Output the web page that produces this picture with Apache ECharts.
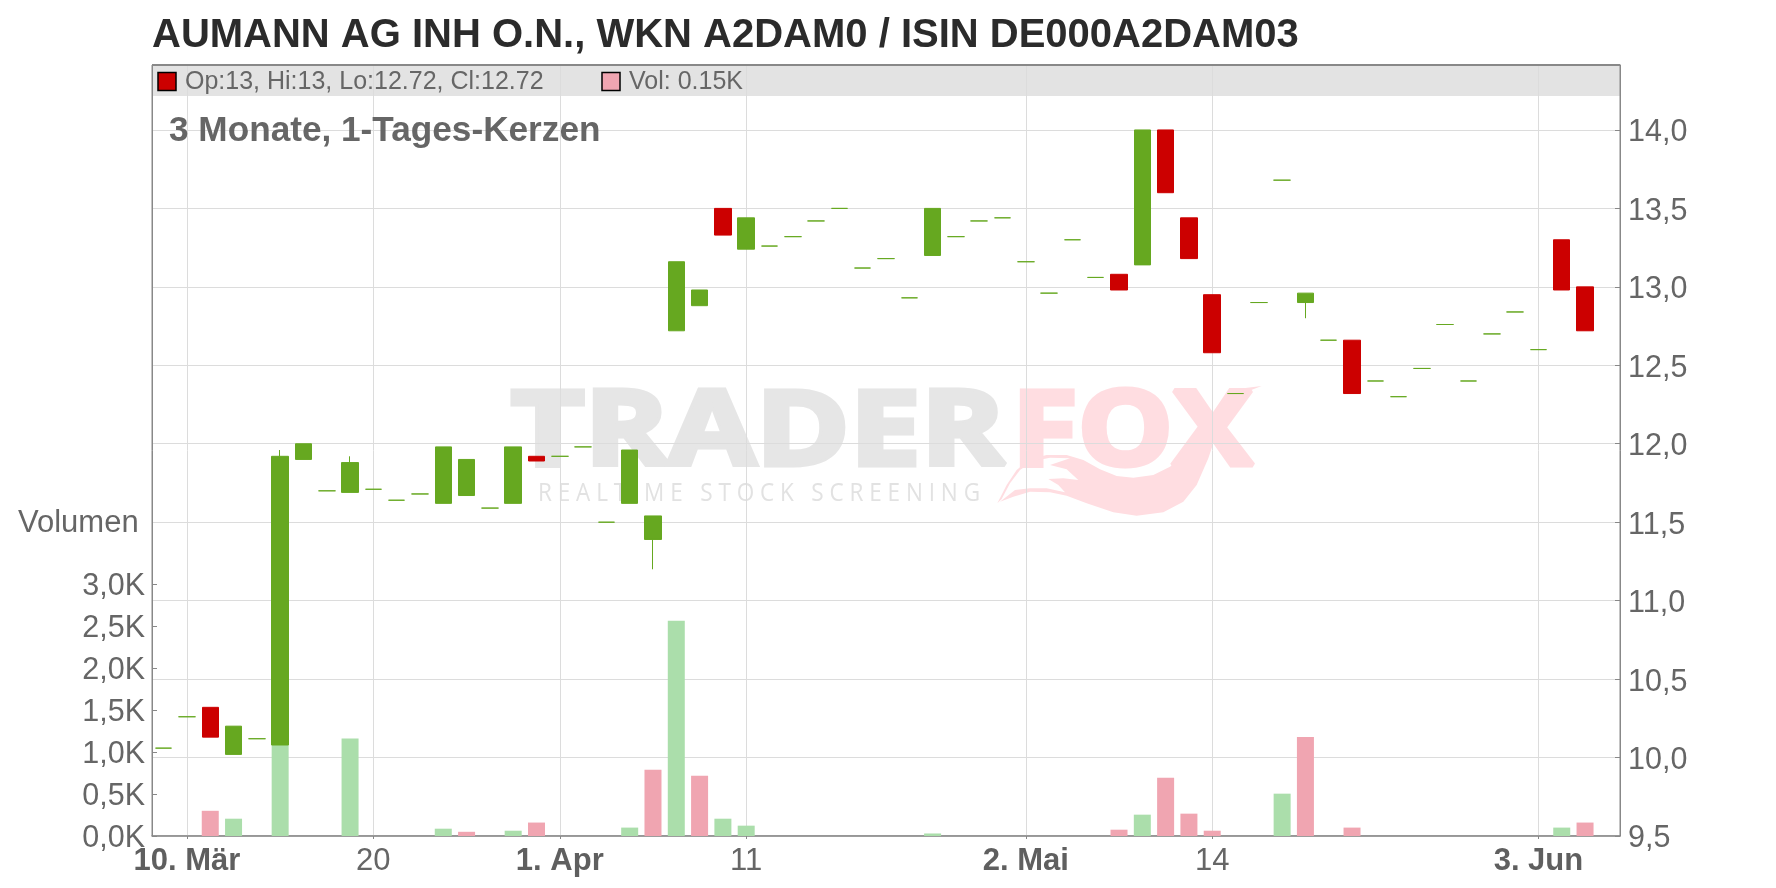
<!DOCTYPE html>
<html><head><meta charset="utf-8">
<style>html,body{margin:0;padding:0;background:#fff}#c{width:1776px;height:888px}</style>
<script src="https://cdn.jsdelivr.net/npm/echarts@6/dist/echarts.min.js"></script>
</head><body><div id="c"></div>
<script>
const categories=['07.03','10.03','11.03','12.03','13.03','14.03','17.03','18.03','19.03','20.03','21.03','24.03','25.03','26.03','27.03','28.03','31.03','01.04','02.04','03.04','04.04','07.04','08.04','09.04','10.04','11.04','14.04','15.04','16.04','17.04','22.04','23.04','24.04','25.04','28.04','29.04','30.04','02.05','05.05','06.05','07.05','08.05','09.05','12.05','13.05','14.05','15.05','16.05','19.05','20.05','21.05','22.05','23.05','26.05','27.05','28.05','29.05','30.05','02.06','03.06','04.06','05.06','06.06'];
const opens=[10.06,10.26,10.32,10.02,10.12,10.08,11.9,11.7,11.69,11.71,11.64,11.68,11.62,11.67,11.59,11.62,11.92,11.92,11.98,11.5,11.62,11.39,12.72,12.88,13.5,13.24,13.26,13.32,13.42,13.5,13.12,13.18,12.93,13.2,13.32,13.42,13.44,13.16,12.96,13.3,13.06,13.08,13.14,14,13.44,12.95,12.32,12.9,13.68,12.9,12.66,12.66,12.4,12.3,12.48,12.76,12.4,12.7,12.84,12.6,13.3,13,null];
const closes=[10.06,10.26,10.13,10.2,10.12,11.92,12,11.7,11.88,11.71,11.64,11.68,11.98,11.9,11.59,11.98,11.89,11.92,11.98,11.5,11.96,11.54,13.16,12.98,13.33,13.44,13.26,13.32,13.42,13.5,13.12,13.18,12.93,13.5,13.32,13.42,13.44,13.16,12.96,13.3,13.06,12.98,14,13.6,13.18,12.58,12.32,12.9,13.68,12.96,12.66,12.32,12.4,12.3,12.48,12.76,12.4,12.7,12.84,12.6,12.98,12.72,null];
const lows=[10.06,10.26,10.13,10.02,10.12,10.08,11.9,11.7,11.69,11.71,11.64,11.68,11.62,11.67,11.59,11.62,11.89,11.92,11.98,11.5,11.62,11.2,12.72,12.88,13.33,13.24,13.26,13.32,13.42,13.5,13.12,13.18,12.93,13.2,13.32,13.42,13.44,13.16,12.96,13.3,13.06,12.98,13.14,13.6,13.18,12.58,12.32,12.9,13.68,12.8,12.66,12.32,12.4,12.3,12.48,12.76,12.4,12.7,12.84,12.6,12.98,12.72,null];
const highs=[10.06,10.26,10.32,10.2,10.12,11.96,12,11.7,11.92,11.71,11.64,11.68,11.98,11.9,11.59,11.98,11.92,11.92,11.98,11.5,11.96,11.54,13.16,12.98,13.5,13.44,13.26,13.32,13.42,13.5,13.12,13.18,12.93,13.5,13.32,13.42,13.44,13.16,12.96,13.3,13.06,13.08,14,14,13.44,12.95,12.32,12.9,13.68,12.96,12.66,12.66,12.4,12.3,12.48,12.76,12.4,12.7,12.84,12.6,13.3,13,null];
const volumeUp=[null,null,null,0.206,null,1.09,null,null,1.16,null,null,null,0.087,null,null,0.063,null,null,null,null,0.1,null,2.563,null,0.206,0.123,null,null,null,null,null,null,null,0.03,null,null,null,null,null,null,null,null,0.254,null,null,null,null,null,0.504,null,null,null,null,null,null,null,null,null,null,null,0.1,null,null];
const volumeDown=[null,null,0.3,null,null,null,null,null,null,null,null,null,null,0.05,null,null,0.16,null,null,null,null,0.79,null,0.718,null,null,null,null,null,null,null,null,null,null,null,null,null,null,null,null,null,0.075,null,0.694,0.266,0.063,null,null,null,1.18,null,0.1,null,null,null,null,null,null,null,null,null,0.16,null];
const priceTicks=[9.5,10,10.5,11,11.5,12,12.5,13,13.5,14];
const volumeTicks=[0,0.5,1,1.5,2,2.5,3];
const dateTickIndex=[1,9,17,25,37,45,59];
const dateTickLabels=['10. Mär','20','1. Apr','11','2. Mai','14','3. Jun'];
const monthTicks=['10. Mär','1. Apr','2. Mai','3. Jun'];
const titleText='AUMANN AG INH O.N., WKN A2DAM0 / ISIN DE000A2DAM03';
const subtitleText='3 Monate, 1-Tages-Kerzen';
const ohlcText='Op:13, Hi:13, Lo:12.72, Cl:12.72';
const volText='Vol: 0.15K';

const GREEN='#66a820',RED='#cc0000',TXT='#666666',FONT='"Liberation Sans"';
const L=152,T=65,R=1620,B=836;
const isTick=i=>dateTickIndex.includes(i);
const sx=x=>900+x/3, sy=y=>375+y/3;
const tail=[[292,385],[320,330],[350,285],[390,252],[440,240],[500,240],[550,255],[600,283],[650,303],[700,308],[760,300],[810,275],[860,235],[905,175],[940,125],[980,70],[1030,40],[1085,33],[1040,50],[1000,85],[970,135],[945,190],[925,250],[890,330],[850,380],[790,412],[710,422],[640,412],[560,385],[500,362],[450,352],[390,350],[340,365],[300,380],[345,345],[390,340],[440,340],[495,352],[475,330],[445,312],[490,310],[535,315],[500,283],[450,270],[510,250],[450,248],[400,258],[360,285],[330,325],[305,372]].map(p=>[sx(p[0]),sy(p[1])]);
const tickRich={a:{fontFamily:FONT,fontSize:30.5,color:TXT,padding:[6,0,0,0]}};

const chart=echarts.init(document.getElementById('c'),null,{renderer:'canvas',width:1776,height:888});
chart.setOption({
 animation:false,
 backgroundColor:'#fff',
 title:{text:titleText,left:152,top:16,padding:0,textStyle:{fontFamily:FONT,fontSize:40,fontWeight:'bold',color:'#2b2b2b'}},
 grid:{left:L,top:T,width:R-L,height:B-T,show:true,borderColor:'#888',borderWidth:1,backgroundColor:'transparent'},
 xAxis:{type:'category',data:categories,boundaryGap:true,
  axisLine:{lineStyle:{color:'#888',width:1.5}},
  axisTick:{show:true,length:3,alignWithLabel:true,interval:(i)=>isTick(i),lineStyle:{color:'#888'}},
  splitLine:{show:true,alignWithLabel:true,interval:(i)=>isTick(i),lineStyle:{color:'#dcdcdc',width:1}},
  axisLabel:{interval:(i)=>isTick(i),margin:10,hideOverlap:false,
   formatter:(v,i)=>{const s=dateTickLabels[dateTickIndex.indexOf(i)];return monthTicks.includes(s)?'{b|'+s+'}':'{n|'+s+'}';},
   rich:{b:{fontFamily:FONT,fontSize:31,fontWeight:'bold',color:'#5f5f5f'},n:{fontFamily:FONT,fontSize:31,color:TXT}}}},
 yAxis:[
  {type:'value',position:'right',min:9.5,max:9.5+(B-T)/156.9,interval:0.5,
   axisLine:{show:true,lineStyle:{color:'#888'}},
   axisTick:{show:true,inside:true,length:5,customValues:priceTicks,lineStyle:{color:'#888'}},
   splitLine:{show:true,lineStyle:{color:'#dcdcdc',width:1}},
   axisLabel:{customValues:priceTicks,margin:8,rich:tickRich,formatter:v=>'{a|'+v.toFixed(1).replace('.',',')+'}'}},
  {type:'value',position:'left',min:0,max:(B-T)/84,interval:0.5,
   axisLine:{show:true,lineStyle:{color:'#888'}},
   axisTick:{show:true,inside:true,length:5,customValues:volumeTicks,lineStyle:{color:'#888'}},
   splitLine:{show:false},
   axisLabel:{customValues:volumeTicks,margin:7,rich:tickRich,formatter:v=>'{a|'+v.toFixed(1).replace('.',',')+'K}'}}
 ],
 series:[
  {type:'bar',name:'VolUp',yAxisIndex:1,data:volumeUp,stack:'v',barWidth:17,itemStyle:{color:'#abdeab'},z:2},
  {type:'bar',name:'VolDown',yAxisIndex:1,data:volumeDown,stack:'v',barWidth:17,itemStyle:{color:'#f0a5b1'},z:2},
  {type:'candlestick',name:'Kurs',yAxisIndex:0,barWidth:17,z:5,
   data:categories.map((c,i)=>[opens[i],closes[i],lows[i],highs[i]]),
   itemStyle:{color:GREEN,color0:RED,borderColor:GREEN,borderColor0:RED,borderColorDoji:GREEN,borderWidth:1}}
 ],
 graphic:{elements:[
  {type:'rect',silent:true,z:-20,shape:{x:L,y:T,width:R-L,height:96-T},style:{fill:'#e3e3e3'}},
  {type:'text',silent:true,z:-10,x:511,y:435,scaleX:1.22,style:{x:0,y:0,text:'TRADER',font:'bold 104px "Open Sans"',verticalAlign:'middle',align:'left',fill:'#e6e6e6',stroke:'#e6e6e6',lineWidth:5,lineJoin:'round'}},
  {type:'text',silent:true,z:-10,x:1012,y:435,scaleX:1.15,style:{x:0,y:0,text:'FOX',font:'bold 104px "Open Sans"',verticalAlign:'middle',align:'left',fill:'#ffdde1',stroke:'#ffdde1',lineWidth:5,lineJoin:'round'}},
  {type:'polygon',silent:true,z:-10,shape:{points:tail},style:{fill:'#ffdde1'}},
  {type:'text',silent:true,z:-10,x:538,y:494,scaleX:0.9,style:{x:0,y:0,text:'R E A L T I M E   S T O C K   S C R E E N I N G',font:'25px "Open Sans"',verticalAlign:'middle',align:'left',fill:'#e2e2e2'}},
  {type:'rect',silent:true,z:50,shape:{x:L,y:T,width:R-L,height:0},style:{stroke:'#888',lineWidth:2,fill:null}},
  {type:'rect',z:60,shape:{x:158,y:72.5,width:18,height:18},style:{fill:RED,stroke:'#000',lineWidth:1.5}},
  {type:'text',z:60,x:185,y:82,style:{text:ohlcText,font:'25px '+FONT,fill:TXT,verticalAlign:'middle'}},
  {type:'rect',z:60,shape:{x:602,y:72.5,width:18,height:18},style:{fill:'#f0a5b1',stroke:'#000',lineWidth:1.5}},
  {type:'text',z:60,x:629,y:82,style:{text:volText,font:'25px '+FONT,fill:TXT,verticalAlign:'middle'}},
  {type:'text',z:60,x:169,y:131,style:{text:subtitleText,font:'bold 35.2px '+FONT,fill:TXT,verticalAlign:'middle'}},
  {type:'text',z:60,x:18,y:523,style:{text:'Volumen',font:'31px '+FONT,fill:TXT,verticalAlign:'middle'}}
 ]}
});
</script></body></html>
